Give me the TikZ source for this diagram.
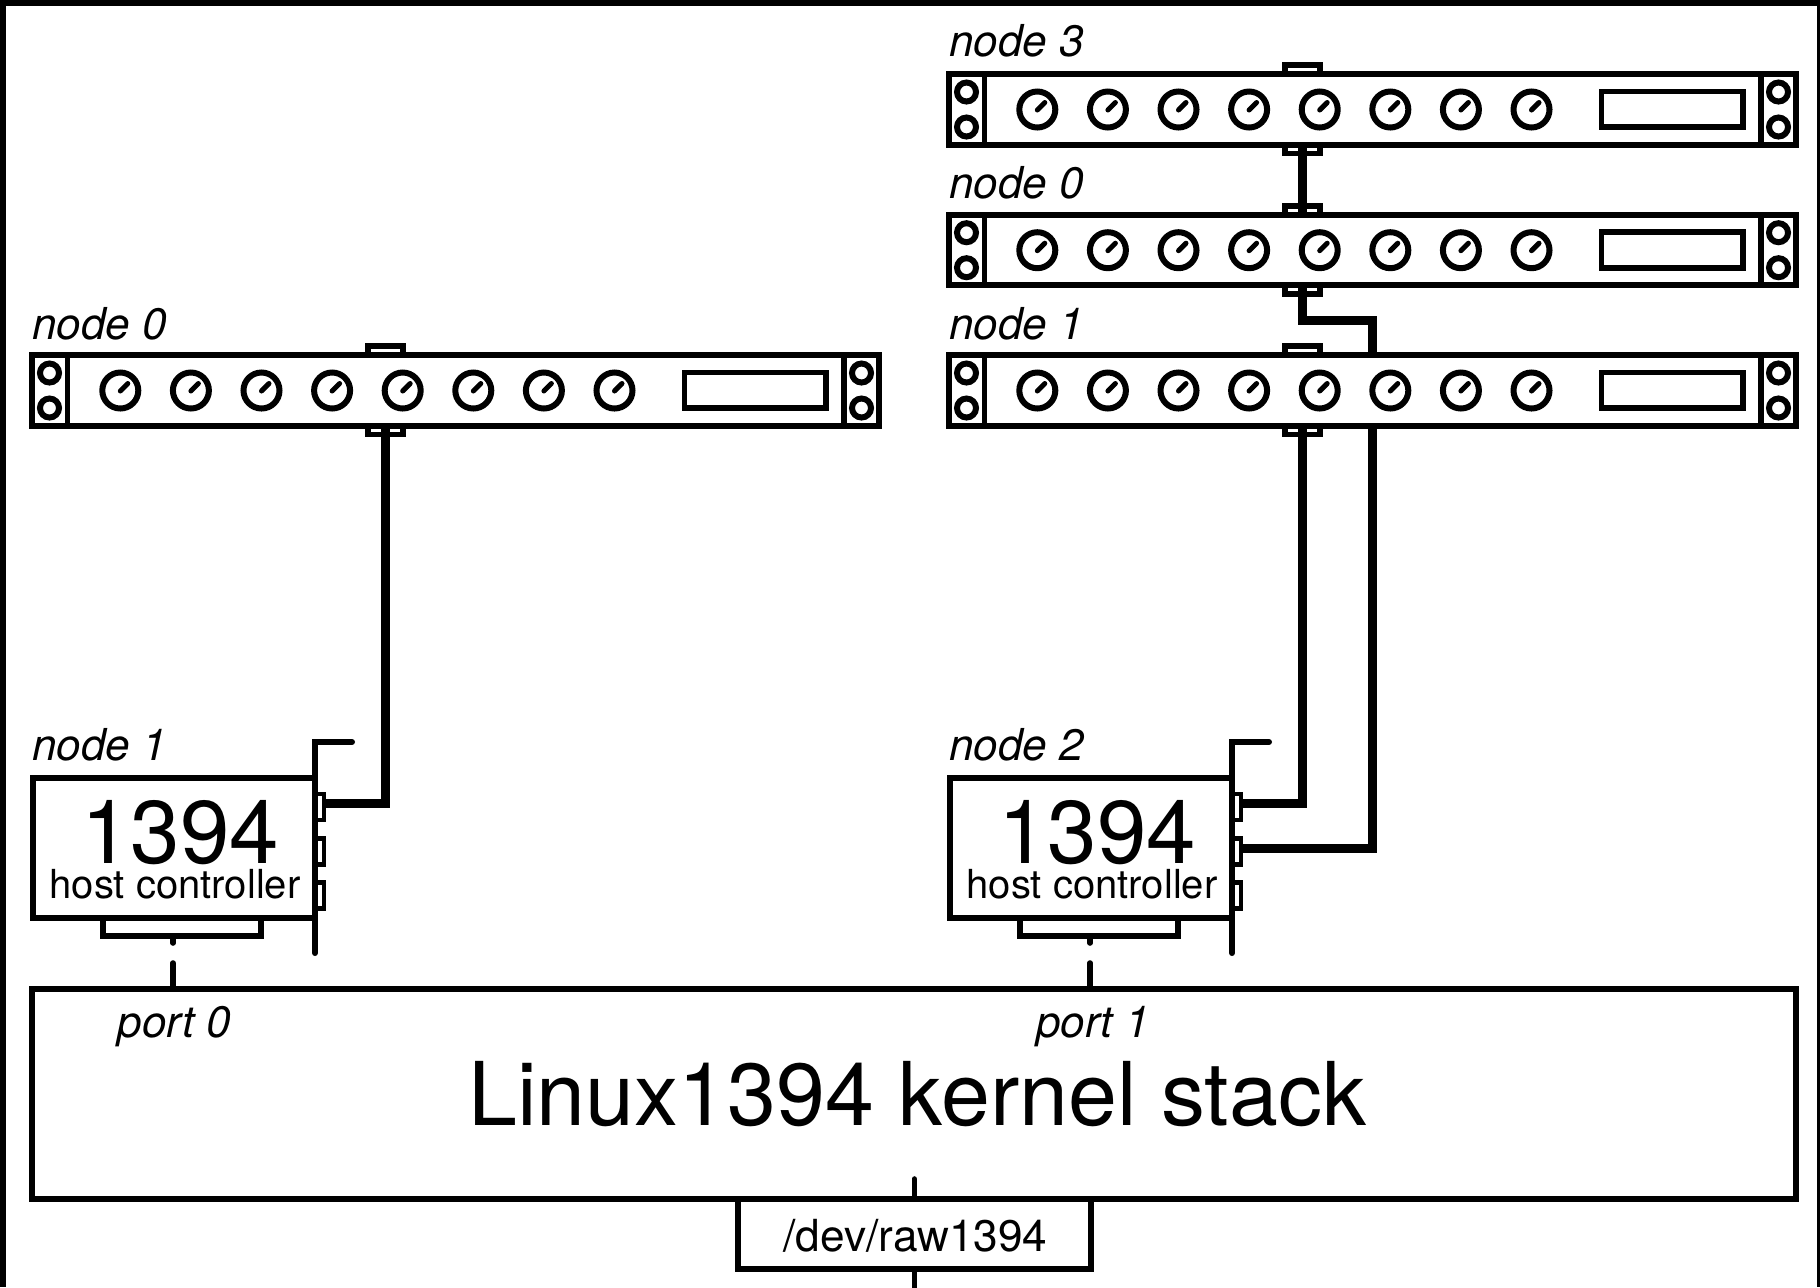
\documentclass[tikz,border=0pt]{standalone}
\usepackage{fontspec}
\setmainfont{TeX Gyre Heros}
\tikzset{
  lbl/.style={inner sep=0pt,outer sep=0pt,font=\fontsize{22pt}{24pt}\selectfont\itshape,text=black},
  rackbody/.style={draw=black,fill=white,line width=3pt,inner sep=0pt,outer sep=0pt,minimum width=423.5pt,minimum height=35.25pt},
  rackport/.style={draw=black,fill=white,line width=2.8pt,inner sep=0pt,outer sep=0pt,minimum width=17.5pt,minimum height=4.5pt},
  thin part/.style={draw=black,line width=2.9pt},
  knob/.style={draw=black,line width=3pt},
  pointer/.style={draw=black,line width=2.5pt,line cap=round},
  cardbody/.style={draw=black,fill=white,line width=3pt,inner sep=0pt,outer sep=0pt,minimum width=141.25pt,minimum height=70pt},
  edgeconn/.style={draw=black,fill=white,line width=2.8pt,inner sep=0pt,outer sep=0pt,minimum width=79pt,minimum height=9pt},
  cardport/.style={draw=black,fill=white,line width=2.4pt,inner sep=0pt,outer sep=0pt,minimum width=4.5pt,minimum height=13pt},
  bracket/.style={draw=black,line width=3pt,line cap=round},
  cable/.style={draw=black,line width=4.5pt},
  stub/.style={draw=black,line width=2.8pt,line cap=round},
  box/.style={draw=black,fill=white,line width=3pt,inner sep=0pt,outer sep=0pt}
}
\newcommand{\rackunit}[3]{%
  \begin{scope}[shift={(#2,#3)}]
    \node[rackport] (#1tp) at (1302.5,69.5) {};
    \node[rackport] (#1bp) at (1302.5,149) {};
    \node[rackbody] (#1) at (1372.5,109.25) {};
    \draw[thin part] (984.5,74) -- (984.5,144.5);
    \draw[thin part] (1761,74) -- (1761,144.5);
    \draw[knob] (966.5,92) circle (9.5);
    \draw[knob] (966.5,127) circle (9.5);
    \draw[knob] (1778.5,92) circle (9.5);
    \draw[knob] (1778.5,127) circle (9.5);
    \foreach \kx in {1037.3,1107.9,1178.5,1249.1,1319.7,1390.3,1460.9,1531.5}{
      \draw[knob] (\kx,109.5) circle (18);
      \draw[pointer] (\kx,110) -- (\kx+7.5,102.5);
    }
    \draw[thin part] (1601.5,91.5) rectangle (1743,127);
  \end{scope}}
\newcommand{\hostcard}[2]{%
  \begin{scope}[shift={(#2,0)}]
    \node[edgeconn] (#1e) at (1099,927) {};
    \node[cardbody] (#1) at (1090.75,848) {};
    \node[cardport] (#1pa) at (1236.5,807) {};
    \node[cardport] (#1pb) at (1236.5,851.5) {};
    \node[cardport] (#1pc) at (1236.5,895.5) {};
    \draw[bracket] (1269,742) -- (1232,742) -- (1232,953);
    \node[anchor=base,inner sep=0pt,font=\fontsize{44.5pt}{46pt}\selectfont] (#1big) at (1097,863) {1394};
    \node[anchor=base,inner sep=0pt,font=\fontsize{20pt}{22pt}\selectfont] (#1sub) at (1092,898) {host controller};
    \coordinate (#1sa) at (1090,936);
    \coordinate (#1sb) at (1090,943);
    \coordinate (#1sc) at (1090,963);
  \end{scope}}
\begin{document}
\begin{tikzpicture}[x=0.5pt,y=-0.5pt]
  \useasboundingbox (0,0) rectangle (1820,1287);
  \fill[black] (0,0) rectangle (1820,1287);
  \fill[white] (5.5,5.5) rectangle (1817,1287);

  % kernel
  \node[box,minimum width=882pt,minimum height=105.25pt] (kern) at (914,1093.75) {};
  \node[anchor=base,inner sep=0pt,font=\fontsize{44pt}{48pt}\selectfont] (kernlabel) at (917.5,1125.5) {Linux1394 kernel stack};
  \node[lbl,anchor=base] (port0) at (174.5,1037.5) {port 0};
  \node[lbl,anchor=base] (port1) at (1093,1037.5) {port 1};

  % device node
  \node[box,minimum width=176.35pt,minimum height=35.25pt] (dev) at (914.15,1234) {};
  \node[anchor=base,inner sep=0pt,font=\fontsize{22.1pt}{24pt}\selectfont] (devlabel) at (915.5,1251) {/dev/raw1394};
  \coordinate (devtop) at (914.3,1179);
  \coordinate (devbot) at (914.3,1290);
  \draw[stub] (dev.north -| devtop) -- (devtop);
  \draw[stub,line cap=butt] (dev.south -| devbot) -- (devbot);

  % racks
  \rackunit{rA}{0}{0}
  \rackunit{rB}{0}{140.7}
  \rackunit{rC}{0}{281}
  \rackunit{rD}{-917}{281}

  % host cards
  \hostcard{hL}{-917}
  \hostcard{hR}{0}

  % labels
  \node[lbl,anchor=base west] (n3) at (949.5,56.5) {node 3};
  \node[lbl,anchor=base west] (n0r) at (949.5,198.5) {node 0};
  \node[lbl,anchor=base west] (n1r) at (949.5,339) {node 1};
  \node[lbl,anchor=base west] (n0l) at (32.5,339) {node 0};
  \node[lbl,anchor=base west] (n1l) at (32.5,760) {node 1};
  \node[lbl,anchor=base west] (n2r) at (949.5,760) {node 2};

  % cables
  \coordinate (jog) at (1372.5,320);
  \coordinate (rCtopin) at (1372.5,355);
  \coordinate (rCbotout) at (1372.5,425.5);
  \draw[cable] (rAbp.north) -- (rBtp.south);
  \draw[cable] (rBbp.north) |- (jog) -- (rCtopin);
  \draw[cable] (rCbp.north) |- ([yshift=1.75pt]hRpa.east);
  \draw[cable] (rCbotout) |- ([yshift=1.75pt]hRpb.east);
  \draw[cable] (rDbp.north) |- ([yshift=1.75pt]hLpa.east);

  % stubs
  \draw[stub] (hLsa) -- (hLsb);
  \draw[stub] (hLsc) -- (hLsc |- kern.north);
  \draw[stub] (hRsa) -- (hRsb);
  \draw[stub] (hRsc) -- (hRsc |- kern.north);
\end{tikzpicture}
\end{document}
